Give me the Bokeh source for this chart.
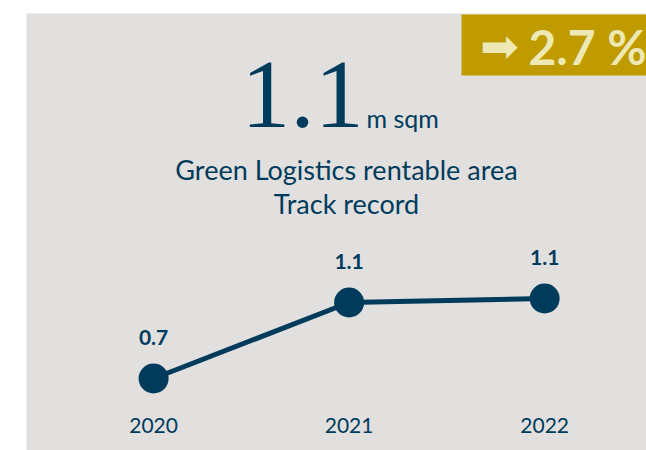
from bokeh.plotting import figure
from bokeh.models import Range1d, Label, ColumnDataSource
from bokeh.core.properties import value
from bokeh.embed import file_html
from bokeh.resources import INLINE

# ---- data ----
years = [2020, 2021, 2022]
year_labels = ["2020", "2021", "2022"]
area = [0.70, 1.08, 1.10]
value_labels = ["0.7", "1.1", "1.1"]
headline_value = "1.1"
headline_unit = "m sqm"
title_lines = ["Green Logistics rentable area", "Track record"]
change_label = "2.7 %"

NAVY = "#003B5C"
GRAY = "#E1E0DF"
GOLD = "#BF9B00"
PALE = "#EEE8B4"
SANS = "Lato"
SERIF = "Liberation Serif"

X0, X1 = 2019.35, 2022.521
Y0, Y1 = 0.34, 2.525
FW, FH = 620, 437


def dx(px):
    return X0 + (px - 26) / FW * (X1 - X0)


def dy(py):
    return Y1 - (py - 13) / FH * (Y1 - Y0)


p = figure(width=646, height=450, output_backend="svg", toolbar_location=None,
           x_range=Range1d(X0, X1), y_range=Range1d(Y0, Y1),
           x_axis_type=None, y_axis_type=None,
           min_border_left=26, min_border_top=13, min_border_right=0, min_border_bottom=0,
           border_fill_color="white", background_fill_color=GRAY,
           outline_line_color=None)
p.grid.visible = False

# gold badge
p.quad(left=[dx(461)], right=[X1 + 1], top=[dy(14)], bottom=[dy(75)],
       fill_color=GOLD, line_color=None)
p.add_layout(Label(x=dx(499), y=dy(45), text="\u27a1", text_font="DejaVu Sans",
                   text_font_size="46px", text_color=PALE, text_align="center",
                   text_baseline="middle"))
p.add_layout(Label(x=dx(528), y=dy(46), text=change_label, text_font=SANS,
                   text_font_style="bold", text_font_size="48px", text_color=PALE,
                   text_align="left", text_baseline="middle"))

# headline
p.add_layout(Label(x=dx(302), y=dy(94), text=headline_value, text_font=SERIF,
                   text_font_size="98px", text_color=NAVY, text_align="center",
                   text_baseline="middle"))
p.add_layout(Label(x=dx(366), y=dy(117), text=headline_unit, text_font=SANS,
                   text_font_size="25px", text_color=NAVY, text_align="left",
                   text_baseline="middle"))
p.add_layout(Label(x=dx(346), y=dy(169), text=title_lines[0], text_font=SANS,
                   text_font_size="27px", text_color=NAVY, text_align="center",
                   text_baseline="middle"))
p.add_layout(Label(x=dx(346), y=dy(203), text=title_lines[1], text_font=SANS,
                   text_font_size="27px", text_color=NAVY, text_align="center",
                   text_baseline="middle"))

src = ColumnDataSource(dict(x=years, y=area, lab=value_labels, yl=year_labels,
                            ly=[dy(425)] * len(years)))

p.line("x", "y", source=src, line_color=NAVY, line_width=5)
p.scatter("x", "y", source=src, size=30, fill_color=NAVY, line_color=None)
p.text("x", "y", text="lab", source=src, y_offset=-41, text_font=value(SANS),
       text_font_style="bold", text_font_size="21px", text_color=NAVY,
       text_align="center", text_baseline="middle")
p.text("x", "ly", text="yl", source=src, text_font=value(SANS),
       text_font_size="21px", text_color=NAVY, text_align="center",
       text_baseline="middle")

open("out.html", "w").write(file_html(p, INLINE))
